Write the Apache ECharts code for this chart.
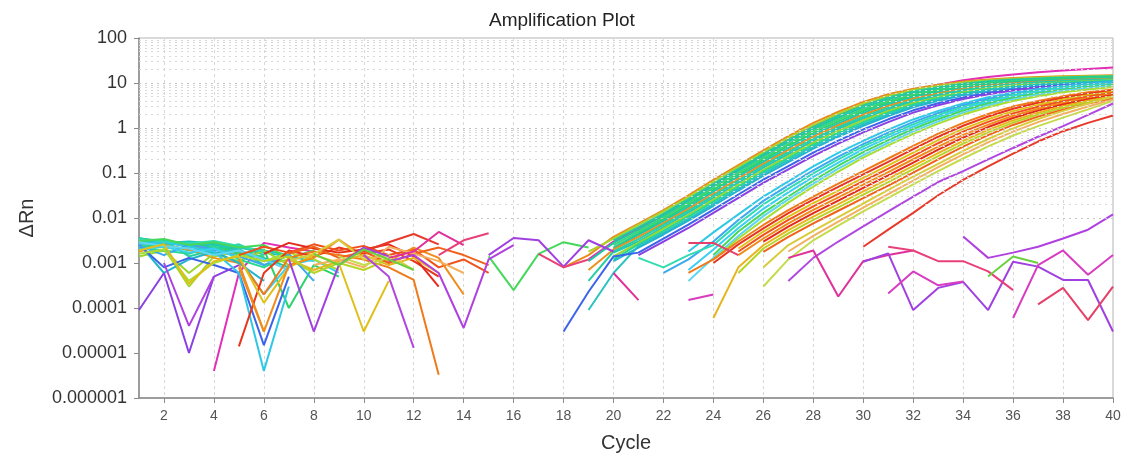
<!DOCTYPE html>
<html><head><meta charset="utf-8">
<script src="https://cdn.jsdelivr.net/npm/echarts@6/dist/echarts.min.js"></script>
<style>html,body{margin:0;padding:0;background:#fff}#c{width:1126px;height:456px}</style>
</head><body><div id="c"></div>
<script>
const _ = null;
const cycles = [1,2,3,4,5,6,7,8,9,10,11,12,13,14,15,16,17,18,19,20,21,22,23,24,25,26,27,28,29,30,31,32,33,34,35,36,37,38,39,40];
const yTickLabels = ['0.000001','0.00001','0.0001','0.001','0.01','0.1','1','10','100'];
const yDecades = [1e-6,1e-5,1e-4,1e-3,1e-2,1e-1,1,10,100];

// ---- earliest group
const b1_magenta = [_,_,_,4e-6,6e-4,2.8e-3,2.2e-3,1.8e-3,_,_,
 _,_,_,_,_,_,_,_,1.2e-3,3e-3,
 6e-3,0.012,0.026,0.056,0.12,0.26,0.55,1.1,2.0,3.3,
 5.0,7.0,9.2,11.5,13.6,15.5,17.3,19,20.5,22];
const b1_orange = [3.2e-3,2.8e-3,2.4e-3,2.1e-3,1.6e-3,1.1e-3,_,_,_,_,
 _,_,_,_,_,_,_,8e-4,1.5e-3,3.8e-3,
 7.5e-3,0.015,0.032,0.07,0.15,0.32,0.66,1.3,2.3,3.8,
 5.6,7.5,9.2,10.8,12,12.9,13.6,14.1,14.5,14.8];
const b1_yg = [2.5e-3,2.2e-3,3e-4,1.4e-3,1.8e-3,9e-4,1.2e-3,6e-4,_,_,
 _,_,_,_,_,_,_,_,1.8e-3,3.5e-3,
 7e-3,0.014,0.029,0.064,0.137,0.29,0.6,1.16,2.07,3.46,
 5.16,6.97,8.57,10.2,11.5,12.4,13.1,13.7,14.1,14.4];
const b1_teal0 = [3.3e-3,2.9e-3,2.5e-3,2.6e-3,2e-3,_,_,_,_,_,
 _,_,_,_,_,_,_,_,_,3.2e-3,
 6.3e-3,0.0125,0.0264,0.0577,0.124,0.264,0.538,1.05,1.88,3.15,
 4.74,6.47,8.04,9.62,11.0,11.9,12.6,13.3,13.7,14.1];
const b1_teal1 = [3.5e-3,3.1e-3,2.6e-3,2.3e-3,1.9e-3,1.3e-3,8e-4,_,_,_,
 _,_,_,_,_,_,_,_,1.1e-3,2.8e-3,
 5.5e-3,0.0113,0.024,0.052,0.112,0.24,0.49,0.95,1.71,2.87,
 4.35,6.0,7.55,9.1,10.5,11.5,12.2,12.9,13.3,13.7];
const b1_green0 = [2.3e-3,2.6e-3,1.9e-3,2.2e-3,1.7e-3,1.4e-3,_,_,_,_,
 _,_,_,_,_,_,_,_,_,2.5e-3,
 5e-3,0.0103,0.0216,0.047,0.101,0.216,0.439,0.861,1.55,2.61,
 3.99,5.58,7.1,8.63,10.0,11.0,11.8,12.5,12.9,13.4];
const b1_green = [2.8e-3,3.3e-3,2.2e-3,2.8e-3,1.5e-3,2e-3,1e-4,9e-4,5e-4,_,
 _,_,_,_,_,_,_,_,_,2.2e-3,
 4.5e-3,9.3e-3,0.0195,0.0425,0.091,0.195,0.4,0.78,1.4,2.38,
 3.66,5.19,6.65,8.18,9.57,10.6,11.4,12.1,12.6,13.1];
const b1_teal3 = [3.6e-3,2.8e-3,3e-3,2.7e-3,2.3e-3,1.9e-3,1.5e-3,_,_,_,
 _,_,_,_,_,_,_,_,_,2.1e-3,
 4.2e-3,8.5e-3,0.0177,0.0384,0.0826,0.177,0.358,0.703,1.27,2.16,
 3.37,4.81,6.25,7.76,9.14,10.2,11.1,11.8,12.2,12.7];
const b1_orange2 = [1.8e-3,2.5e-3,2e-3,1.3e-3,1e-3,3e-5,_,_,_,_,
 _,_,_,_,_,_,_,_,7e-4,2e-3,
 3.8e-3,7.7e-3,0.016,0.0346,0.0746,0.16,0.323,0.635,1.15,1.97,
 3.09,4.47,5.87,7.35,8.73,9.82,10.7,11.4,11.9,12.4];
const b1_tgreen = [2.1e-3,3.2e-3,1.4e-3,2e-3,2.6e-3,1.5e-3,_,_,_,_,
 _,_,_,_,_,_,_,_,4e-4,1.8e-3,
 3.4e-3,7e-3,0.0145,0.0313,0.0676,0.145,0.292,0.575,1.04,1.79,
 2.83,4.15,5.52,6.97,8.35,9.46,10.4,11.1,11.6,12.1];
const b1_teal2 = [3e-3,2.7e-3,2.9e-3,2.5e-3,2.2e-3,1.7e-3,1.4e-3,1.1e-3,_,_,
 _,_,_,_,_,_,_,_,_,1.7e-3,
 3e-3,6.3e-3,0.0131,0.0282,0.0611,0.131,0.263,0.52,0.95,1.63,
 2.6,3.85,5.18,6.59,7.98,9.1,10,10.7,11.3,11.8];
const b1_yg2 = [1.4e-3,1.9e-3,6e-4,1.6e-3,1.1e-3,1.9e-3,9e-4,1.3e-3,_,_,
 _,_,_,_,_,_,_,_,_,1.4e-3,
 2.8e-3,5.8e-3,0.0118,0.0255,0.0552,0.118,0.238,0.47,0.859,1.49,
 2.39,3.58,4.86,6.25,7.62,8.75,9.68,10.4,11.0,11.5];
const b1_spring = [2.2e-3,1.9e-3,1.6e-3,2.4e-3,1.2e-3,8e-4,1.5e-3,_,_,_,
 _,_,_,_,_,_,_,_,_,1.2e-3,
 2.6e-3,5.2e-3,0.0107,0.023,0.05,0.107,0.215,0.425,0.78,1.35,
 2.19,3.33,4.57,5.93,7.28,8.41,9.38,10.1,10.7,11.2];
const b1_teal4 = [2.9e-3,3.2e-3,2.4e-3,1.6e-3,2.1e-3,9e-4,_,_,_,_,
 _,_,_,_,_,_,_,_,9e-5,6e-4,
 2.4e-3,4.7e-3,9.6e-3,0.0207,0.0451,0.0964,0.194,0.384,0.706,1.23,
 2.01,3.09,4.29,5.61,6.95,8.09,9.06,9.82,10.4,11.0];
const b1_bteal = [2.7e-3,6e-4,1.2e-3,1.8e-3,1e-3,4e-4,_,_,_,_,
 _,_,_,_,_,_,_,_,_,1.1e-3,
 2.2e-3,4.3e-3,8.7e-3,0.0187,0.0408,0.0873,0.175,0.348,0.64,1.12,
 1.85,2.87,4.03,5.32,6.65,7.8,8.77,9.5,10.1,10.7];
const b1_blue = [2.5e-3,8e-4,1.3e-3,9e-4,6e-4,1.5e-5,5e-4,_,_,_,
 _,_,_,_,_,_,_,3e-5,2.3e-4,1.4e-3,
 1.7e-3,3.5e-3,7.1e-3,0.0153,0.0333,0.0713,0.143,0.284,0.526,0.93,
 1.56,2.47,3.55,4.78,6.07,7.21,8.2,8.95,9.55,10.2];
const b1_purple = [9e-5,6e-4,1e-5,5e-4,9e-4,_,_,_,_,_,
 _,_,_,_,_,_,_,_,_,_,
 1.5e-3,3e-3,6e-3,0.013,0.028,0.06,0.12,0.24,0.45,0.8,
 1.35,2.2,3.2,4.4,5.6,6.8,7.8,8.6,9.2,9.7];

// ---- second group
const b2_cyan = [2.6e-3,2.9e-3,2.3e-3,1.8e-3,6e-4,4e-6,3e-4,_,_,_,
 _,_,_,_,_,_,_,_,_,_,
 _,_,1.8e-3,4.8e-3,0.012,0.03,0.065,0.14,0.28,0.52,
 0.92,1.55,2.4,3.5,4.8,6.1,7.4,8.6,9.6,10.5];
const b2_lblue = [2.4e-3,1.5e-3,2.6e-3,2e-3,1.4e-3,9e-4,1.6e-3,4e-4,_,_,
 _,_,_,_,_,_,_,_,_,_,
 _,6e-4,1.2e-3,3e-3,9e-3,0.024,0.053,0.115,0.23,0.44,
 0.79,1.35,2.15,3.2,4.4,5.7,7.0,8.2,9.2,10.1];
const b2_mint = [3.4e-3,3e-3,2.7e-3,3.1e-3,2.4e-3,1.8e-3,_,_,_,_,
 _,_,_,_,_,_,_,_,_,_,
 1.3e-3,8e-4,1.5e-3,2.5e-3,7.5e-3,0.02,0.045,0.098,0.2,0.39,
 0.7,1.2,1.95,2.95,4.1,5.4,6.7,7.9,8.9,9.8];
const b2_cyan2 = [2e-3,2.3e-3,1.7e-3,2.1e-3,1.3e-3,2e-4,9e-4,1.2e-3,6e-4,_,
 _,_,_,_,_,_,_,_,_,_,
 _,_,7e-4,2e-3,6e-3,0.016,0.037,0.082,0.17,0.34,
 0.62,1.07,1.75,2.7,3.8,5.0,6.3,7.5,8.5,9.4];
const b2_green = [3.1e-3,3.4e-3,2.5e-3,2.9e-3,2.2e-3,2.5e-3,1.3e-3,1.9e-3,_,_,
 _,_,_,_,1.4e-3,2.5e-4,1.6e-3,2.9e-3,2.2e-3,_,
 _,_,_,1.5e-3,5e-3,0.013,0.03,0.068,0.145,0.29,
 0.54,0.95,1.57,2.45,3.5,4.7,5.9,7.1,8.1,9.0];
const b2_lcyan = [2.9e-3,2.4e-3,2.1e-3,1.5e-3,1.9e-3,1.2e-3,7e-4,_,_,_,
 _,_,_,_,_,_,_,_,_,_,
 _,_,4e-4,1.3e-3,4e-3,0.011,0.026,0.058,0.125,0.25,
 0.47,0.84,1.4,2.2,3.2,4.3,5.5,6.7,7.7,8.6];
const b2_yg = [1.6e-3,2e-3,4e-4,1e-3,1.5e-3,1.1e-3,1.7e-3,1.2e-3,7e-4,_,
 _,_,_,_,_,_,_,_,_,_,
 _,_,_,1.2e-3,3.5e-3,9e-3,0.022,0.05,0.107,0.22,
 0.41,0.74,1.25,2.0,2.9,4.0,5.1,6.2,7.2,8.1];

// ---- third group
const b3_orange = [_,_,_,_,1.2e-3,2e-4,1.3e-3,1.8e-3,1.5e-3,1.2e-3,
 8e-4,4.2e-4,3.3e-6,_,_,_,_,_,_,_,
 _,_,6e-4,1.2e-3,3e-3,7e-3,0.015,0.03,0.058,0.11,
 0.21,0.4,0.75,1.3,2.05,3.0,4.0,5.1,6.2,7.2];
const b3_red = [_,_,_,_,1.4e-5,6e-4,1.9e-3,1.4e-3,2.2e-3,1.6e-3,
 2e-3,1.1e-3,5e-4,_,_,_,_,_,_,_,
 _,_,_,1e-3,2.6e-3,5.9e-3,0.0128,0.0256,0.049,0.093,
 0.177,0.338,0.64,1.12,1.8,2.68,3.63,4.7,5.78,6.81];
const b3_yellow = [1.9e-3,2.6e-3,3.5e-4,1.1e-3,1.4e-3,1.3e-4,8e-4,1.5e-3,1e-3,3e-5,
 4e-4,_,_,_,_,_,_,_,_,_,
 _,_,_,_,2.1e-3,5e-3,0.0107,0.0214,0.0407,0.0776,
 0.148,0.283,0.538,0.958,1.56,2.37,3.27,4.3,5.36,6.41];
const b3_redorange = [_,_,_,_,1.5e-3,2.3e-3,1.7e-3,2.6e-3,1.9e-3,2.4e-3,
 1.5e-3,2e-3,8e-4,1.2e-3,6e-4,_,_,_,_,_,
 _,_,_,_,1.8e-3,4.2e-3,9.1e-3,0.0181,0.0345,0.0658,
 0.125,0.241,0.459,0.828,1.37,2.11,2.96,3.95,5.0,6.07];
const b3_orange2 = [_,_,_,_,8e-4,3e-5,9e-4,1.3e-3,3.3e-3,1.4e-3,
 1.1e-3,2.2e-3,1.3e-3,2e-4,_,_,_,_,_,_,
 _,_,_,_,1.5e-3,3.5e-3,7.6e-3,0.0151,0.0288,0.055,
 0.105,0.202,0.387,0.706,1.19,1.87,2.67,3.61,4.65,5.71];
const b3_red2 = [_,_,_,_,_,1.6e-3,2.8e-3,2.1e-3,1.7e-3,2e-3,
 2.6e-3,1.4e-3,3e-4,_,_,_,_,_,_,_,
 _,_,_,_,_,3e-3,6.4e-3,0.0128,0.0244,0.0466,
 0.0887,0.171,0.33,0.61,1.05,1.67,2.43,3.33,4.34,5.41];
const b3_gold = [_,_,_,_,_,_,1.2e-3,7e-4,1.1e-3,1.5e-3,
 9e-4,1.3e-3,6e-4,_,_,_,_,_,_,_,
 _,_,_,6e-5,8e-4,2.48e-3,5.37e-3,0.0107,0.0204,0.0389,
 0.0741,0.144,0.278,0.52,0.911,1.48,2.19,3.04,4.02,5.09];
const b3_lime = [_,_,_,_,_,1.1e-3,1.4e-3,6e-4,1e-3,7e-4,
 1.2e-3,_,_,_,_,_,_,_,_,_,
 _,_,_,_,6e-4,2.1e-3,4.55e-3,9.1e-3,0.0173,0.033,
 0.0628,0.122,0.237,0.45,0.8,1.32,1.98,2.8,3.75,4.82];
const b3_orred = [_,_,_,_,_,_,1.6e-3,2.3e-3,1.3e-3,1.8e-3,
 1e-3,1.6e-3,2.2e-3,1.5e-3,9e-4,_,_,_,_,_,
 _,_,_,_,_,1.76e-3,3.8e-3,7.6e-3,0.0145,0.0275,
 0.0525,0.102,0.2,0.384,0.695,1.17,1.79,2.56,3.48,4.54];

// ---- late group
const b4_yellow = [_,_,_,_,_,_,1.1e-3,1.6e-3,3.3e-3,1.2e-3,
 1.5e-3,7e-4,_,_,_,_,_,_,_,_,
 _,_,_,_,_,8e-4,2.5e-3,5.2e-3,0.0105,0.021,
 0.042,0.083,0.16,0.31,0.57,0.98,1.58,2.4,3.5,5.0];
const b4_lorange = [_,_,_,_,_,_,_,9e-4,1.2e-3,8e-4,
 2.3e-3,1.6e-3,1.1e-3,6e-4,_,_,_,_,_,_,
 _,_,_,_,_,_,1.8e-3,4e-3,8.3e-3,0.017,
 0.034,0.068,0.135,0.26,0.48,0.83,1.35,2.05,3.0,4.3];
const b4_lime = [_,_,_,_,_,_,_,_,1.4e-3,9e-4,
 1.3e-3,_,_,_,_,_,_,_,_,_,
 _,_,_,_,_,3e-4,1.2e-3,3.2e-3,6.8e-3,0.014,
 0.028,0.056,0.11,0.21,0.39,0.68,1.1,1.7,2.6,4.0];
const b4_purple = [_,_,_,_,_,_,_,_,_,1.5e-3,
 5e-4,1.3e-5,_,_,_,_,_,_,_,_,
 _,_,_,_,_,_,4e-4,1.3e-3,3e-3,6.5e-3,
 0.014,0.03,0.063,0.11,0.2,0.36,0.64,1.1,1.95,3.5];
const b4_red = [_,_,_,_,_,_,_,_,_,1.8e-3,
 2.9e-3,4.4e-3,2.6e-3,_,_,_,_,_,_,_,
 _,_,_,_,_,_,_,_,_,2.3e-3,
 5.5e-3,0.013,0.032,0.07,0.14,0.27,0.5,0.85,1.3,1.9];

// ---- non-amplifying wells
const na_magenta = [_,_,_,_,_,_,_,_,_,_,
 1.3e-3,1.8e-3,4.9e-3,2.5e-3,_,_,_,_,_,6e-4,
 1.5e-4,_,_,_,_,_,1.3e-3,1.9e-3,1.8e-4,1.1e-3,
 1.5e-3,1.9e-3,_,_,_,_,_,_,_,_];
const na_purple = [_,_,_,_,_,_,1.2e-3,3e-5,9e-4,2.2e-3,
 1.4e-3,_,_,_,1.5e-3,3.6e-3,3.2e-3,8.3e-4,3.2e-3,1.8e-3,
 _,_,_,_,_,_,_,_,_,1.07e-3,
 1.64e-3,9e-5,2.8e-4,3.8e-4,9e-5,1.07e-3,8.3e-4,4.2e-4,4.2e-4,3e-5];
const na_violet = [_,1e-3,4e-5,5e-4,_,_,_,_,_,_,
 1.1e-3,1.5e-3,6e-4,3.6e-5,1.2e-3,2.5e-3,_,_,_,_,
 _,_,_,_,_,_,_,_,_,_,
 _,_,_,3.9e-3,1.3e-3,1.7e-3,2.3e-3,3.5e-3,5.5e-3,0.012];
const na_pink = [_,_,_,_,_,_,_,_,_,_,
 _,_,1.5e-3,3.2e-3,4.6e-3,_,1.6e-3,8e-4,1.2e-3,_,
 _,_,_,_,_,_,_,_,_,_,
 2.3e-3,1.9e-3,1.1e-3,1.1e-3,6.5e-4,2.5e-4,_,_,_,_];
const na_magenta2 = [_,_,_,_,_,_,_,_,_,_,
 _,_,_,_,_,_,_,_,_,_,
 _,_,1.5e-4,2e-4,_,_,_,_,_,_,
 2.1e-4,6.5e-4,3.2e-4,3.9e-4,_,6e-5,9e-4,1.9e-3,5.5e-4,1.5e-3];
const na_rose = [_,_,_,_,_,_,_,_,_,_,
 _,_,_,_,_,_,_,_,_,_,
 _,_,2.8e-3,2.8e-3,1.5e-3,_,_,_,_,_,
 _,_,_,_,_,_,1.2e-4,2.8e-4,5.4e-5,3e-4];
const na_green = [_,_,_,_,_,_,_,1.6e-3,9e-4,2e-3,
 1.2e-3,7e-4,_,_,_,_,_,_,_,_,
 _,_,_,_,_,_,_,_,_,_,
 _,_,_,_,5e-4,1.4e-3,1e-3,_,_,_];

const wells = [
 ['b1_magenta',b1_magenta],['b1_orange',b1_orange],['b1_yg',b1_yg],['b1_teal0',b1_teal0],['b1_teal1',b1_teal1],['b1_green0',b1_green0],
 ['b1_green',b1_green],['b1_teal3',b1_teal3],['b1_orange2',b1_orange2],['b1_tgreen',b1_tgreen],['b1_teal2',b1_teal2],['b1_yg2',b1_yg2],
 ['b1_spring',b1_spring],['b1_teal4',b1_teal4],['b1_bteal',b1_bteal],['b1_blue',b1_blue],['b1_purple',b1_purple],
 ['b2_cyan',b2_cyan],['b2_lblue',b2_lblue],['b2_mint',b2_mint],['b2_cyan2',b2_cyan2],['b2_green',b2_green],['b2_lcyan',b2_lcyan],['b2_yg',b2_yg],
 ['b3_orange',b3_orange],['b3_red',b3_red],['b3_yellow',b3_yellow],['b3_redorange',b3_redorange],['b3_orange2',b3_orange2],
 ['b3_red2',b3_red2],['b3_gold',b3_gold],['b3_lime',b3_lime],['b3_orred',b3_orred],
 ['b4_yellow',b4_yellow],['b4_lorange',b4_lorange],['b4_lime',b4_lime],['b4_purple',b4_purple],['b4_red',b4_red],
 ['na_magenta',na_magenta],['na_purple',na_purple],['na_violet',na_violet],['na_pink',na_pink],
 ['na_magenta2',na_magenta2],['na_rose',na_rose],['na_green',na_green]
];

const palette = {
 b1_magenta:'#e22fb6', b1_orange:'#e98b1c', b1_yg:'#a9d42a', b1_teal0:'#26cc9c', b1_teal1:'#1fc8a2', b1_green0:'#3ad47c',
 b1_green:'#2bd46a', b1_teal3:'#1dc6b0', b1_orange2:'#ec901e', b1_tgreen:'#26d0a0', b1_teal2:'#21c8b6', b1_yg2:'#9ad62e',
 b1_spring:'#25d98e', b1_teal4:'#2ac4c0', b1_bteal:'#23b5cc', b1_blue:'#3c64ea', b1_purple:'#8a40e2',
 b2_cyan:'#2fc8e6', b2_lblue:'#3ca8f0', b2_mint:'#31dcb0', b2_cyan2:'#39cff2', b2_green:'#45d85c', b2_lcyan:'#5cd6f2', b2_yg:'#a8de34',
 b3_orange:'#f07a1a', b3_red:'#e8361e', b3_yellow:'#e0c018', b3_redorange:'#f0501c', b3_orange2:'#ef8c1c',
 b3_red2:'#e42a1a', b3_gold:'#e8b41e', b3_lime:'#b8d428', b3_orred:'#f0621c',
 b4_yellow:'#d8cc3c', b4_lorange:'#f2b060', b4_lime:'#c4dc4c', b4_purple:'#b048e0', b4_red:'#e83a2a',
 na_magenta:'#e0309c', na_purple:'#a040e0', na_violet:'#b040e0', na_pink:'#e8407a',
 na_magenta2:'#d83cc0', na_rose:'#e6406a', na_green:'#6ad040'
};

const even = (i) => (i + 1) % 2 === 0;
const hLines = [];
for (let k = 0; k < yDecades.length - 1; k++) {
  for (let m = 1; m <= 9; m++) {
    if (k === 0 && m === 1) continue;
    hLines.push({ yAxis: yDecades[k] * m, lineStyle: { color: m === 1 ? '#c4c4c4' : '#d8d8d8', type: [2, 4], width: 1 } });
  }
}

const series = [{
  type: 'line', data: [], silent: true, z: 1,
  markLine: { silent: true, symbol: 'none', label: { show: false }, animation: false, data: hLines }
}];
wells.forEach(([name, vals]) => {
  series.push({
    name, type: 'line', data: vals, showSymbol: false, symbol: 'none', silent: true, z: 3,
    connectNulls: false, lineStyle: { width: 2, color: palette[name] }, itemStyle: { color: palette[name] }
  });
});

const chart = echarts.init(document.getElementById('c'), null, { renderer: 'canvas' });
chart.setOption({
  animation: false,
  textStyle: { fontFamily: 'Liberation Sans' },
  title: { text: 'Amplification Plot', left: 484, top: 6, textStyle: { fontSize: 19, fontWeight: 'normal', color: '#222', fontFamily: 'Liberation Sans' } },
  grid: { left: 139, right: 13, top: 38, bottom: 58, show: true, borderColor: '#b4b4b4', borderWidth: 1, containLabel: false, outerBoundsMode: 'none' },
  xAxis: {
    type: 'category', data: cycles, boundaryGap: false,
    axisLine: { lineStyle: { color: '#8a8a8a', width: 1.5 } },
    axisTick: { interval: even, length: 5, lineStyle: { color: '#8a8a8a' } },
    axisLabel: { interval: even, color: '#555', fontSize: 14, margin: 11 },
    splitLine: { show: true, interval: even, lineStyle: { color: '#d8d8d8', type: [3, 3] } },
    name: 'Cycle', nameLocation: 'middle', nameGap: 35, nameTextStyle: { fontSize: 20, color: '#333' }
  },
  yAxis: {
    type: 'log', logBase: 10, min: 1e-6, max: 100, splitNumber: 8,
    axisLine: { show: true, lineStyle: { color: '#8a8a8a', width: 1.5 } },
    axisTick: { show: true, length: 5, lineStyle: { color: '#8a8a8a' } },
    axisLabel: { color: '#333', fontSize: 18, margin: 12, formatter: (v) => yTickLabels[Math.round(Math.log10(v)) + 6] },
    splitLine: { show: false },
    name: 'ΔRn', nameLocation: 'middle', nameGap: 102, nameTextStyle: { fontSize: 20, color: '#333' }
  },
  series
});
</script></body></html>
